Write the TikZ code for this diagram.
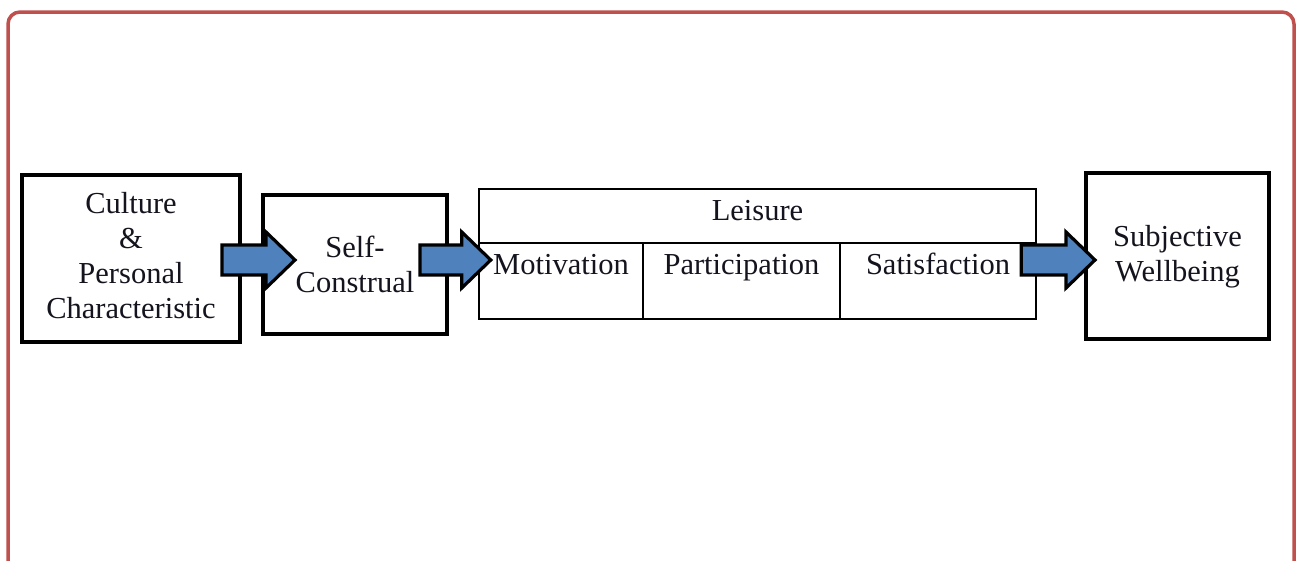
\documentclass[tikz,border=0pt]{standalone}
\usepackage{fontspec}
\setmainfont{Liberation Serif}
\usetikzlibrary{calc}
\definecolor{framered}{RGB}{192,80,77}
\definecolor{arrowblue}{RGB}{79,129,189}
\definecolor{inktext}{RGB}{20,20,30}
\tikzset{
  frame/.style={draw=framered, line width=3.5pt, rounded corners=12pt},
  thickbox/.style={draw=black, line width=4pt, fill=white, rectangle, inner sep=0pt},
  cellbox/.style={draw=black, line width=2.5pt, rectangle, inner sep=0pt},
  lbl/.style={font=\fontsize{30.5}{35}\selectfont, text=inktext, align=center, inner sep=0pt},
  blockarrow/.style={draw=black, fill=arrowblue, line width=3.2pt, line join=miter},
}
\newcommand{\blockarr}[2]{%
  \draw[blockarrow] let \p1=(#1), \p2=(#2) in
    (\x1,{\y1+15pt}) -- ({\x2-29pt},{\y1+15pt}) -- ({\x2-29pt},{\y1+28pt}) --
    (\x2,\y1) -- ({\x2-29pt},{\y1-28pt}) -- ({\x2-29pt},{\y1-15pt}) --
    (\x1,{\y1-15pt}) -- cycle;}
\begin{document}
\begin{tikzpicture}[x=1pt,y=-1pt]
\useasboundingbox (0,0) rectangle (1299,560);
\fill[white] (0,0) rectangle (1299,560);
\draw[frame] (8,12) rectangle (1294,580);

% boxes
\node[thickbox, minimum width=218pt, minimum height=167pt] (culture) at (131,258.5) {};
\node[lbl] at (131,256) {Culture\\\&\\Personal\\Characteristic};

\node[thickbox, minimum width=184pt, minimum height=139pt] (self) at (355,264.5) {};
\node[lbl] at (355,264.5) {Self-\\Construal};

\node[cellbox, minimum width=557pt, minimum height=54pt] (leis) at (757.5,216) {};
\node[lbl] at (757.5,211) {Leisure};
\node[cellbox, minimum width=164pt, minimum height=76pt] (mot) at (561,281) {};
\node[cellbox, minimum width=197pt, minimum height=76pt] (par) at (741.5,281) {};
\node[cellbox, minimum width=196pt, minimum height=76pt] (sat) at (938,281) {};
\node[lbl, anchor=base] (motl) at ($(mot.north)+(0,32.5)$) {Motivation};
\node[lbl, anchor=base] (parl) at ($(par.north)+(0,32.5)$) {Participation};
\node[lbl, anchor=base] (satl) at ($(sat.north)+(0,32.5)$) {Satisfaction};

\node[thickbox, minimum width=183pt, minimum height=166pt] (swb) at (1177.5,256) {};
\node[lbl] at (1177.5,257) {Subjective\\Wellbeing};

% arrow end points
\coordinate (a1s) at ($(culture.east |- 0,260)+(-20,0)$);
\coordinate (a1t) at ($(self.west |- 0,260)+(34,0)$);
\coordinate (a2s) at ($(self.east |- 0,260)+(-29,0)$);
\coordinate (a2t) at ($(mot.west |- 0,260)+(13,0)$);
\coordinate (a3s) at ($(sat.east |- 0,260)+(-16,0)$);
\coordinate (a3t) at ($(swb.west |- 0,260)+(11,0)$);

\blockarr{a1s}{a1t}
\blockarr{a2s}{a2t}
\blockarr{a3s}{a3t}
\end{tikzpicture}
\end{document}
